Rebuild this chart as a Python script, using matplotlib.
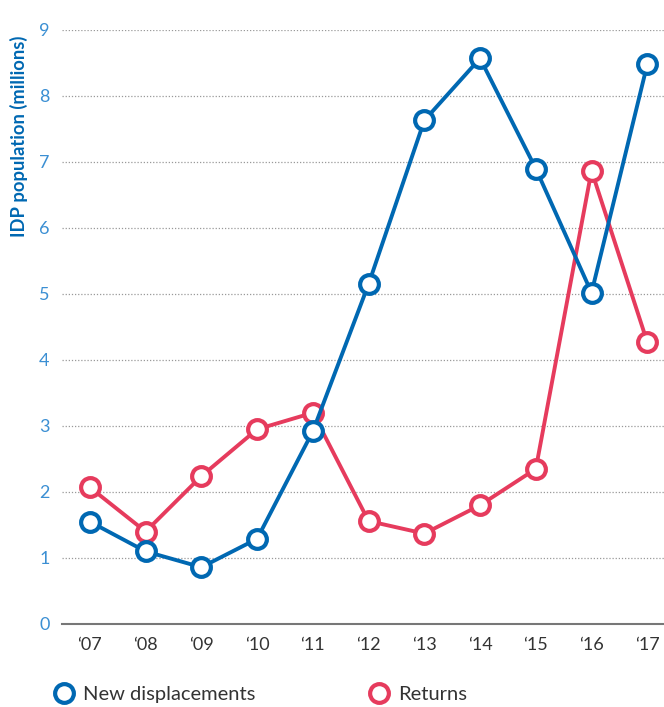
import matplotlib
matplotlib.use("Agg")
import matplotlib.pyplot as plt
from matplotlib.lines import Line2D

years = ["\u201807", "\u201808", "\u201809", "\u201810", "\u201811", "\u201812",
         "\u201813", "\u201814", "\u201815", "\u201816", "\u201817"]
new_displacements = [1.55, 1.10, 0.86, 1.29, 2.92, 5.15, 7.63, 8.57, 6.90, 5.02, 8.48]
returns = [2.07, 1.40, 2.24, 2.95, 3.20, 1.56, 1.37, 1.80, 2.35, 6.87, 4.27]
yticks = list(range(0, 10))

BLUE = "#0068b2"
RED = "#e63b5d"
TICKBLUE = "#3b8fd3"

plt.rcParams['font.family'] = ['Lato', 'DejaVu Sans']

fig = plt.figure(figsize=(6.64, 7.07), dpi=100)
ax = fig.add_axes([62/664, (707-624)/707, (664-62)/664, (624-30)/707])

x = list(range(len(years)))
ms = 13.5
for vals, c in [(returns, RED), (new_displacements, BLUE)]:
    ax.plot(x, vals, color=c, lw=2.8, marker='o', ms=ms, mfc='white',
            mec=c, mew=3, clip_on=False, zorder=3)

ax.set_xlim(-0.5, 10.3)
ax.set_ylim(0, 9)
ax.set_yticks(yticks)
ax.set_xticks(x)
ax.set_xticklabels(years)
ax.tick_params(axis='y', length=0, labelsize=13, labelcolor=TICKBLUE, pad=9)
ax.tick_params(axis='x', length=0, labelsize=13, labelcolor="#333333", pad=9)

for yv in yticks[1:]:
    ax.axhline(yv, color="#999999", lw=0.9, ls=(0, (1, 1.5)), zorder=1)
for s in ['top', 'right', 'left']:
    ax.spines[s].set_visible(False)
ax.spines['bottom'].set_color("#777777")
ax.spines['bottom'].set_linewidth(1.5)

fig.text(19/664, 1 - 136/707, "IDP population (millions)", rotation=90,
         color=BLUE, fontsize=13.2, fontweight='bold', ha='center', va='center')

h_blue = Line2D([], [], color=BLUE, marker='o', ls='none', ms=13.5, mfc='white', mew=3)
h_red = Line2D([], [], color=RED, marker='o', ls='none', ms=13.5, mfc='white', mew=3)
fig.legend([h_blue], ["New displacements"], loc='center left',
           bbox_to_anchor=(54/664, 1 - 694/707), frameon=False, borderpad=0,
           borderaxespad=0, handlelength=1.0, fontsize=14.5, handletextpad=0.45,
           labelcolor="#333333")
fig.legend([h_red], ["Returns"], loc='center left',
           bbox_to_anchor=(369/664, 1 - 694/707), frameon=False, borderpad=0,
           borderaxespad=0, handlelength=1.0, fontsize=14.5, handletextpad=0.45,
           labelcolor="#333333")

fig.savefig("out.png", dpi=100)
